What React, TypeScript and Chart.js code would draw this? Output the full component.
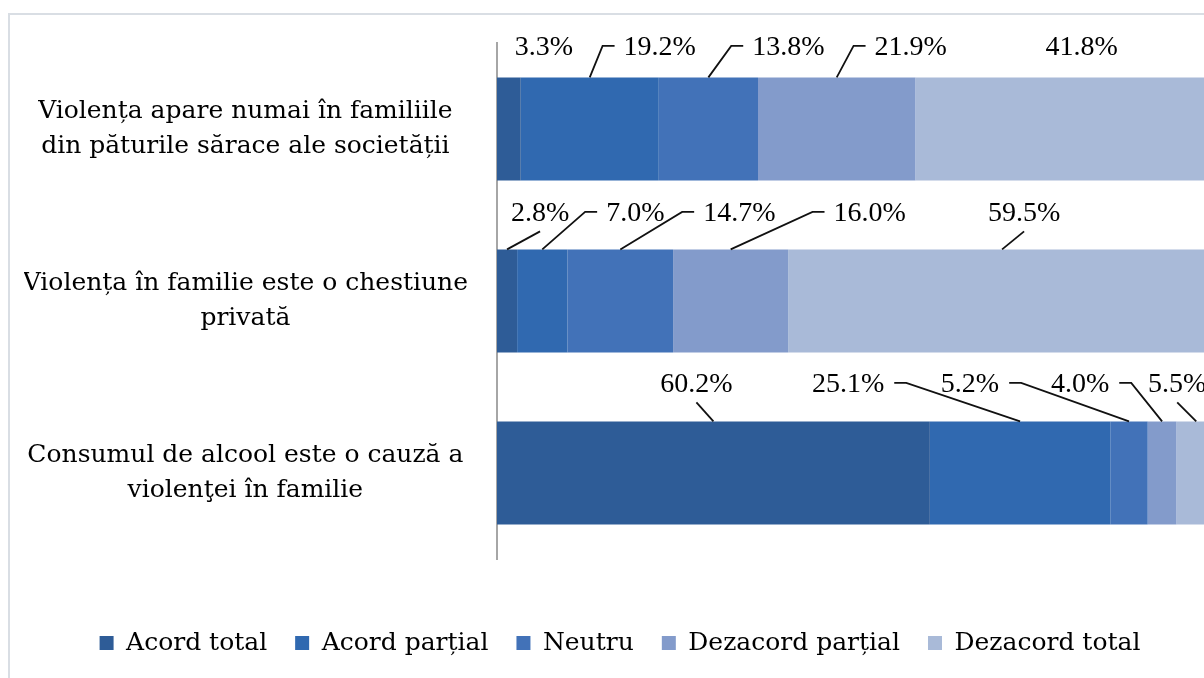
import { useEffect, useRef } from 'react';
import { Chart, registerables } from 'chart.js';

Chart.register(...registerables);

// ---- data ----
const CATEGORIES: string[][] = [
  ['Violența apare numai în familiile', 'din păturile sărace ale societății'],
  ['Violența în familie este o chestiune', 'privată'],
  ['Consumul de alcool este o cauză a', 'violenţei în familie'],
];
const SERIES = ['Acord total', 'Acord parțial', 'Neutru', 'Dezacord parțial', 'Dezacord total'];
const ACORD_TOTAL = [3.3, 2.8, 60.2];
const ACORD_PARTIAL = [19.2, 7.0, 25.1];
const NEUTRU = [13.8, 14.7, 5.2];
const DEZACORD_PARTIAL = [21.9, 16.0, 4.0];
const DEZACORD_TOTAL = [41.8, 59.5, 5.5];
const VALUES = [ACORD_TOTAL, ACORD_PARTIAL, NEUTRU, DEZACORD_PARTIAL, DEZACORD_TOTAL];

// ---- style / layout ----
const COLORS = ['#2e5c97', '#3069b0', '#4272b8', '#839bcb', '#a9bad8'];
// label centre offset (px) from the segment's top-centre, per category row, per series
const LABEL_DX = [
  [35, 70, 80, 74, 16],
  [33, 93, 119, 139, 22],
  [-17, -172, -159, -82, -19],
];
// baseline offset from bar top, per category row
const LABEL_DY = [-22, -28, -29];
// leader line style: none | up | right (label right of anchor) | left (label left of anchor)
const LEADER = [
  ['none', 'right', 'right', 'right', 'none'],
  ['up', 'right', 'right', 'right', 'up'],
  ['up', 'left', 'left', 'left', 'up'],
];

const labelPlugin = {
  id: 'leaderLabels',
  afterDatasetsDraw(chart: any) {
    const ctx = chart.ctx as CanvasRenderingContext2D;
    ctx.save();
    ctx.font = "28px 'Liberation Serif'";
    ctx.fillStyle = '#000';
    ctx.strokeStyle = '#111';
    ctx.lineWidth = 1.8;
    chart.data.datasets.forEach((ds: any, i: number) => {
      const meta = chart.getDatasetMeta(i);
      meta.data.forEach((el: any, j: number) => {
        const v = ds.data[j] as number;
        const p = el.getProps(['x', 'y', 'base', 'height'], true);
        const ax = (p.x + p.base) / 2;
        const ay = p.y - p.height / 2;
        const text = v.toFixed(1) + '%';
        const w = ctx.measureText(text).width;
        const cx = ax + LABEL_DX[j][i];
        const by = ay + LABEL_DY[j];
        ctx.textAlign = 'center';
        ctx.textBaseline = 'alphabetic';
        ctx.fillText(text, cx, by);
        const mode = LEADER[j][i];
        const my = by - 9.5;
        ctx.beginPath();
        if (mode === 'up') {
          ctx.moveTo(ax, ay);
          ctx.lineTo(cx, by + 10);
        } else if (mode === 'right') {
          const ex = cx - w / 2 - 9;
          ctx.moveTo(ax, ay);
          ctx.lineTo(ex - 12, my);
          ctx.lineTo(ex, my);
        } else if (mode === 'left') {
          const ex = cx + w / 2 + 10;
          ctx.moveTo(ax, ay);
          ctx.lineTo(ex + 12, my);
          ctx.lineTo(ex, my);
        }
        ctx.stroke();
      });
    });
    ctx.restore();
  },
};

export default function App() {
  const ref = useRef<HTMLCanvasElement>(null);
  useEffect(() => {
    const chart = new Chart(ref.current!, {
      type: 'bar',
      data: {
        labels: CATEGORIES,
        datasets: SERIES.map((s, i) => ({
          label: s,
          data: VALUES[i],
          backgroundColor: COLORS[i],
          borderWidth: 0,
          barPercentage: 0.6,
          categoryPercentage: 1,
        })),
      },
      options: {
        indexAxis: 'y',
        responsive: false,
        animation: false,
        layout: { padding: { left: 14, right: 24, top: 28, bottom: 29.5 } },
        scales: {
          x: {
            stacked: true,
            min: 0,
            max: 100,
            ticks: { display: false },
            grid: { display: false, drawTicks: false },
            border: { display: false },
            afterFit: (s: any) => {
              s.height = 43.5;
              s.paddingLeft = 0;
              s.paddingRight = 0;
            },
          },
          y: {
            stacked: true,
            ticks: {
              crossAlign: 'center',
              padding: 29,
              color: '#000',
              font: { family: "'DejaVu Serif'", size: 25, lineHeight: 1.4 },
            },
            grid: { display: false, drawTicks: false },
            border: { display: true, color: '#a6a6a6', width: 2 },
            afterFit: (s: any) => {
              s.width = 473;
              s.paddingTop = 0;
              s.paddingBottom = 0;
            },
          },
        },
        plugins: {
          legend: {
            position: 'bottom',
            labels: {
              boxWidth: 14,
              boxHeight: 14,
              padding: 28,
              color: '#000',
              font: { family: "'DejaVu Serif'", size: 25 },
            },
          },
          tooltip: { enabled: false },
        },
      } as any,
      plugins: [labelPlugin],
    });
    return () => chart.destroy();
  }, []);
  return (
    <div
      style={{
        position: 'fixed',
        left: 0,
        top: 0,
        width: 1204,
        height: 678,
        overflow: 'hidden',
        background: '#fff',
      }}
    >
      <div
        style={{
          position: 'absolute',
          left: 8,
          top: 13,
          width: 1250,
          height: 720,
          borderLeft: '2px solid #d9dee4',
          borderTop: '2px solid #d9dee4',
          boxSizing: 'border-box',
        }}
      >
        <canvas ref={ref} width={1230} height={680} style={{ display: 'block', width: 1230, height: 680 }} />
      </div>
    </div>
  );
}
